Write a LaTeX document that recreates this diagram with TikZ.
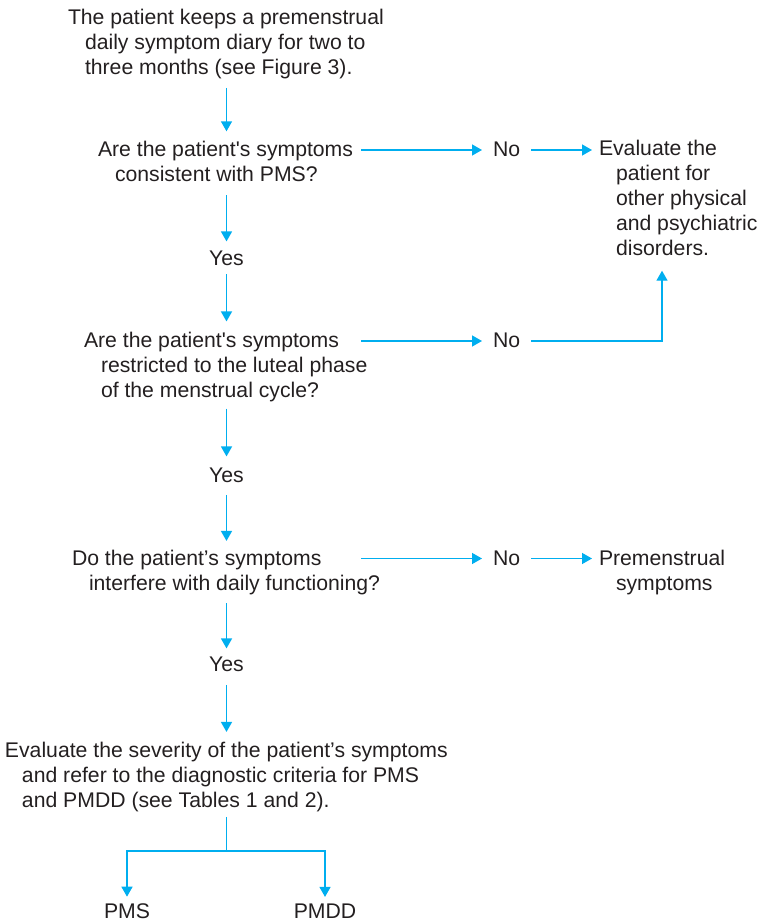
\documentclass[tikz,border=0pt]{standalone}
\usepackage{fontspec}
\setmainfont{Liberation Sans}
\usetikzlibrary{arrows.meta,calc}
\definecolor{flowcyan}{RGB}{0,174,239}
\definecolor{inkgray}{RGB}{35,31,32}
\newcommand\blk[1]{\vtop{\baselineskip=25pt\lineskip=0pt\lineskiplimit=-30pt #1}}
\newcommand\firstln[1]{\hbox{#1}}
\newcommand\nextln[1]{\hbox{\hskip17pt #1}}
\begin{document}
\begin{tikzpicture}[x=1pt,y=-1pt,
  txt/.style={inner sep=0pt,outer sep=0pt,text=inkgray,font=\fontsize{21.2pt}{25pt}\selectfont},
  blockL/.style={txt,anchor=base west},
  lbl/.style={txt,anchor=base},
  conn/.style={draw=flowcyan,line width=1.4pt},
  arr/.style={conn,-{Triangle[length=10pt,width=11pt]}}
]
\useasboundingbox (0,0) rectangle (762,923);
\coordinate (cx) at (226.5,0);
\coordinate (hx) at (361,0);
\coordinate (ux) at (662,0);

% central column
\node[blockL] (b1) at (68,25) {\blk{\firstln{The patient keeps a premenstrual}\nextln{daily symptom diary for two to}\nextln{three months (see Figure 3).}}};
\node[blockL] (q1) at (98,156.5) {\blk{\firstln{Are the patient\textquotesingle s symptoms}\nextln{consistent with PMS?}}};
\node[lbl] (yes1) at (226.5,265) {Yes};
\node[blockL] (q2) at (84,347.5) {\blk{\firstln{Are the patient\textquotesingle s symptoms}\nextln{restricted to the luteal phase}\nextln{of the menstrual cycle?}}};
\node[lbl] (yes2) at (226.5,482) {Yes};
\node[blockL] (q3) at (72,565) {\blk{\firstln{Do the patient’s symptoms}\nextln{interfere with daily functioning?}}};
\node[lbl] (yes3) at (226.5,671) {Yes};
\node[blockL] (ev) at (5,757) {\blk{\firstln{Evaluate the severity of the patient’s symptoms}\nextln{and refer to the diagnostic criteria for PMS}\nextln{and PMDD (see Tables 1 and 2).}}};
\node[lbl] (pms) at (127,918.5) {PMS};
\node[lbl] (pmdd) at (325,918.5) {PMDD};

% right side
\node[blockL] (no1) at (493,156.5) {No};
\node[blockL] (no2) at (493,347.5) {No};
\node[blockL] (no3) at (493,565) {No};
\node[blockL] (other) at (599,155.5) {\blk{\firstln{Evaluate the}\nextln{patient for}\nextln{other physical}\nextln{and psychiatric}\nextln{disorders.}}};
\node[blockL] (prem) at (599,565) {\blk{\firstln{Premenstrual}\nextln{symptoms}}};

% row coordinates
\coordinate (r1) at ([yshift=6.5pt]q1.base);
\coordinate (r2) at ([yshift=6.5pt]q2.base);
\coordinate (r3) at ([yshift=6.5pt]q3.base);
\coordinate (split) at (226.5,851);

% vertical flow
\draw[arr,shorten <=8.5pt,shorten >=9.8pt] (b1.south -| cx) -- (q1.north -| cx);
\draw[arr,shorten <=13.7pt,shorten >=9pt] (q1.south -| cx) -- (yes1.north);
\draw[arr,shorten <=8.7pt,shorten >=10.7pt] (yes1.south) -- (q2.north -| cx);
\draw[arr,shorten <=6.6pt,shorten >=11pt] (q2.south -| cx) -- (yes2.north);
\draw[arr,shorten <=12.7pt,shorten >=8.7pt] (yes2.south) -- (q3.north -| cx);
\draw[arr,shorten <=8.6pt,shorten >=8pt] (q3.south -| cx) -- (yes3.north);
\draw[arr,shorten <=13.7pt,shorten >=9.7pt] (yes3.south) -- (ev.north -| cx);
\draw[conn,shorten <=5.6pt] (ev.south -| cx) -- (split);
\draw[arr,shorten >=7pt] (split) -| (pms.north);
\draw[arr,shorten >=7pt] (split) -| (pmdd.north);

% horizontal branches
\draw[arr,shorten >=11pt] (r1 -| hx) -- (no1.west |- r1);
\draw[arr,shorten <=11.2pt,shorten >=7pt] (no1.east |- r1) -- (other.west |- r1);
\draw[arr,shorten >=11pt] (r2 -| hx) -- (no2.west |- r2);
\draw[arr,shorten <=11.2pt,shorten >=15pt] (no2.east |- r2) -- (r2 -| ux) -- (other.south -| ux);
\draw[arr,shorten >=11pt] (r3 -| hx) -- (no3.west |- r3);
\draw[arr,shorten <=11.2pt,shorten >=7pt] (no3.east |- r3) -- (prem.west |- r3);
\end{tikzpicture}
\end{document}
